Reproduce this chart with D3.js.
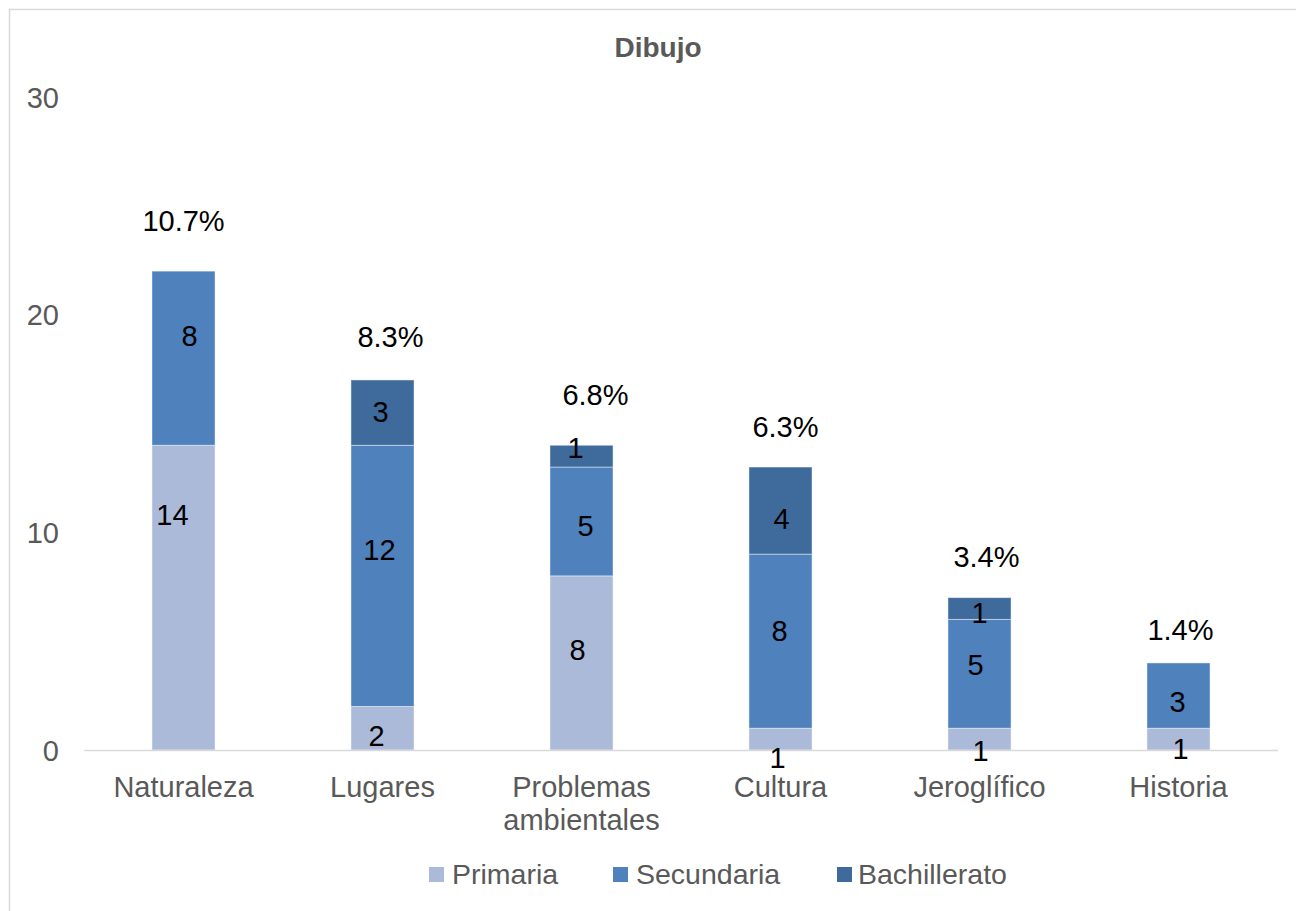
<!DOCTYPE html>
<html>
<head>
<meta charset="utf-8">
<script src="https://cdn.jsdelivr.net/npm/d3@7"></script>
<style>
  html, body { margin: 0; padding: 0; background: #fff; }
  svg { display: block; font-family: Arial, "Liberation Sans", sans-serif; }
</style>
</head>
<body>
<svg id="chart" width="1296" height="911"></svg>
<script>
// ---- data ----
const categories = ["Naturaleza", "Lugares", "Problemas ambientales", "Cultura", "Jeroglífico", "Historia"];
const seriesNames = ["Primaria", "Secundaria", "Bachillerato"];
const primaria = [14, 2, 8, 1, 1, 1];
const secundaria = [8, 12, 5, 8, 5, 3];
const bachillerato = [0, 3, 1, 4, 1, 0];
const percentLabels = ["10.7%", "8.3%", "6.8%", "6.3%", "3.4%", "1.4%"];
const yTicks = [0, 10, 20, 30];

// ---- style / layout ----
const colors = ["#ABBAD8", "#4F81BD", "#3F6A9C"];
const FS = 29;
const pctOffset = [[0, 40], [8, 33], [14, 40], [5, 30], [7, 31], [2, 23]]; // dx, gap above bar (px)
const segOffset = [ // [dx, dy] per category per series
  [[-11, -83], [6, -23], [0, 0]],
  [[-6, 7], [-3, -26], [-2, -1]],
  [[-4, -13], [4, 4], [-6, -9]],
  [[-3, 18], [-1, -11], [1, 7.5]],
  [[1, 11], [-4, -9], [0, 4.5]],
  [[2, 9], [-1, 6], [0, 0]]
];

const svg = d3.select("#chart");

// border
svg.append("rect").attr("x", 9.5).attr("y", 9.5).attr("width", 1400).attr("height", 1000)
  .attr("fill", "none").attr("stroke", "#d9d9d9").attr("stroke-width", 1.5);

const x = d3.scaleBand().domain(categories).range([84, 1278]).padding(0);
const y = d3.scaleLinear().domain([0, 30]).range([750, 97]);
const barW = x.bandwidth() * 0.317;

// title
svg.append("text").attr("x", 658).attr("y", 57).attr("text-anchor", "middle")
  .attr("font-size", 28).attr("font-weight", "bold").attr("fill", "#595959").text("Dibujo");

// y axis labels
const yAxis = d3.axisLeft(y).tickValues(yTicks).tickSize(0).tickPadding(0);
const yg = svg.append("g").attr("transform", "translate(59,0)").call(yAxis);
yg.select(".domain").remove();
yg.selectAll("text").attr("font-size", FS).attr("fill", "#595959")
  .attr("font-family", "Arial, 'Liberation Sans', sans-serif").attr("dy", "0.35em");

// stacked data
const rows = categories.map((c, i) => ({ cat: c, Primaria: primaria[i], Secundaria: secundaria[i], Bachillerato: bachillerato[i] }));
const stack = d3.stack().keys(seriesNames)(rows);

const gBars = svg.append("g");
stack.forEach((layer, si) => {
  layer.forEach((d, ci) => {
    if (d[1] - d[0] <= 0) return;
    gBars.append("rect")
      .attr("x", x(d.data.cat) + (x.bandwidth() - barW) / 2)
      .attr("y", y(d[1]))
      .attr("width", barW)
      .attr("height", y(d[0]) - y(d[1]))
      .attr("fill", colors[si])
      .attr("stroke", "rgba(255,255,255,0.45)")
      .attr("stroke-width", 1);
  });
});

// x axis line
svg.append("line").attr("x1", 84).attr("x2", 1278).attr("y1", 750.5).attr("y2", 750.5)
  .attr("stroke", "#d9d9d9").attr("stroke-width", 1.5);

// segment labels
stack.forEach((layer, si) => {
  layer.forEach((d, ci) => {
    const v = d[1] - d[0];
    if (v <= 0) return;
    const off = segOffset[ci][si];
    svg.append("text")
      .attr("x", x(d.data.cat) + x.bandwidth() / 2 + off[0])
      .attr("y", y((d[0] + d[1]) / 2) + off[1])
      .attr("dy", "0.36em")
      .attr("text-anchor", "middle").attr("font-size", FS).attr("fill", "#000")
      .text(v);
  });
});

// percent labels
categories.forEach((c, i) => {
  const total = primaria[i] + secundaria[i] + bachillerato[i];
  svg.append("text")
    .attr("x", x(c) + x.bandwidth() / 2 + pctOffset[i][0])
    .attr("y", y(total) - pctOffset[i][1])
    .attr("text-anchor", "middle").attr("font-size", FS).attr("fill", "#000")
    .text(percentLabels[i]);
});

// category labels
categories.forEach((c) => {
  const t = svg.append("text").attr("text-anchor", "middle").attr("font-size", FS).attr("fill", "#595959");
  const cx = x(c) + x.bandwidth() / 2;
  const words = c === "Problemas ambientales" ? ["Problemas", "ambientales"] : [c];
  words.forEach((w, k) => {
    t.append("tspan").attr("x", cx).attr("y", 797 + k * 33).text(w);
  });
});

// legend
const legendItems = [
  { name: "Primaria", sx: 429, tx: 452 },
  { name: "Secundaria", sx: 613, tx: 636 },
  { name: "Bachillerato", sx: 837, tx: 858 }
];
legendItems.forEach((it, i) => {
  svg.append("rect").attr("x", it.sx).attr("y", 867).attr("width", 15).attr("height", 15).attr("fill", colors[i]);
  svg.append("text").attr("x", it.tx).attr("y", 884).attr("font-size", 28.5).attr("fill", "#595959").text(it.name);
});
</script>
</body>
</html>
